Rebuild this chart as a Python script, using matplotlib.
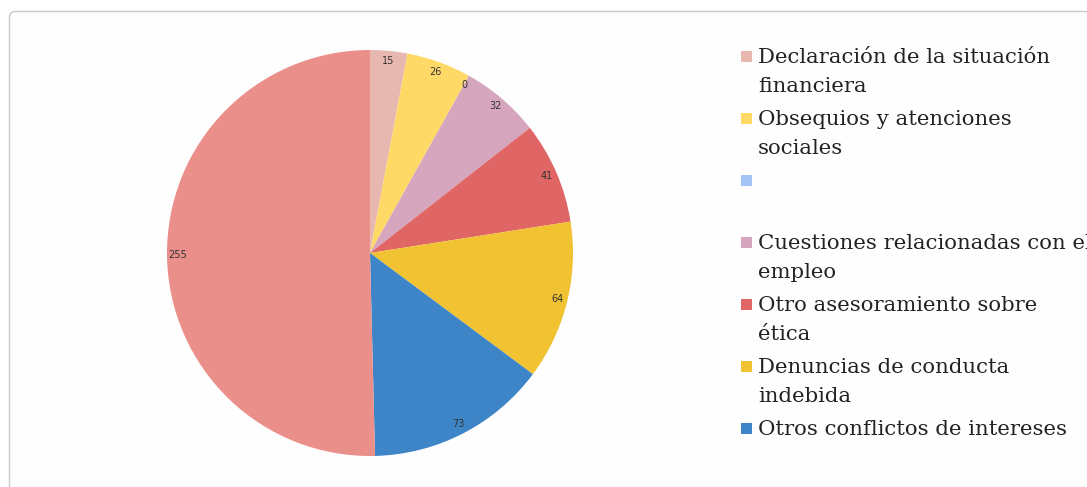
import matplotlib
matplotlib.use("Agg")
import matplotlib.pyplot as plt
from matplotlib.patches import FancyBboxPatch, Rectangle
from matplotlib.transforms import IdentityTransform

# data, clockwise from 12 o'clock
values = [15, 26, 0, 32, 41, 64, 73, 255]
colors = ['#e6b8af', '#ffd966', '#a4c2f4', '#d5a6bd', '#e06666', '#f1c232', '#3d85c6', '#ea8f8a']
legend_labels = ['Declaración de la situación\nfinanciera',
                 'Obsequios y atenciones\nsociales',
                 '\n',
                 'Cuestiones relacionadas con el\nempleo',
                 'Otro asesoramiento sobre\nética',
                 'Denuncias de conducta\nindebida',
                 'Otros conflictos de intereses']

W, H = 1087, 487
fig = plt.figure(figsize=(W / 100, H / 100), dpi=100)

# card frame
card = FancyBboxPatch((9.5, -30), 1200, H - 11.5 + 30,
                      boxstyle='round,pad=0,rounding_size=6',
                      transform=IdentityTransform(), fc='#fefefe', ec='#c9c9c9', lw=1,
                      zorder=-5)
fig.patches.append(card)

# pie
cx, cy, r = 370, 253, 203
ax = fig.add_axes([(cx - r) / W, (H - cy - r) / H, 2 * r / W, 2 * r / H])
ax.patch.set_visible(False)
total = sum(values)
wedges, texts, autotexts = ax.pie(values, colors=colors, startangle=90, counterclock=False,
                                  autopct=lambda p: f'{round(p * total / 100)}', pctdistance=0.95,
                                  wedgeprops=dict(linewidth=0),
                                  textprops=dict(fontsize=7, color='#333333', family='DejaVu Sans'))
ax.set_xlim(-1, 1)
ax.set_ylim(-1, 1)
ax.set_aspect('equal')

# legend drawn by hand: square aligned with first line of each label
y = 63  # baseline of first line, pixels from top
lh = 29
gap = 4
for lab, col in zip(legend_labels, colors[:len(legend_labels)]):
    fig.patches.append(Rectangle((741, H - y + 1), 11, 11, transform=IdentityTransform(),
                                 fc=col, ec='none'))
    for line in lab.split('\n'):
        fig.text(758 / W, (H - y) / H, line, fontsize=15.3, family='DejaVu Serif',
                 color='#222222', va='baseline', ha='left')
        y += lh
    y += gap

fig.savefig('out.png', dpi=100)
